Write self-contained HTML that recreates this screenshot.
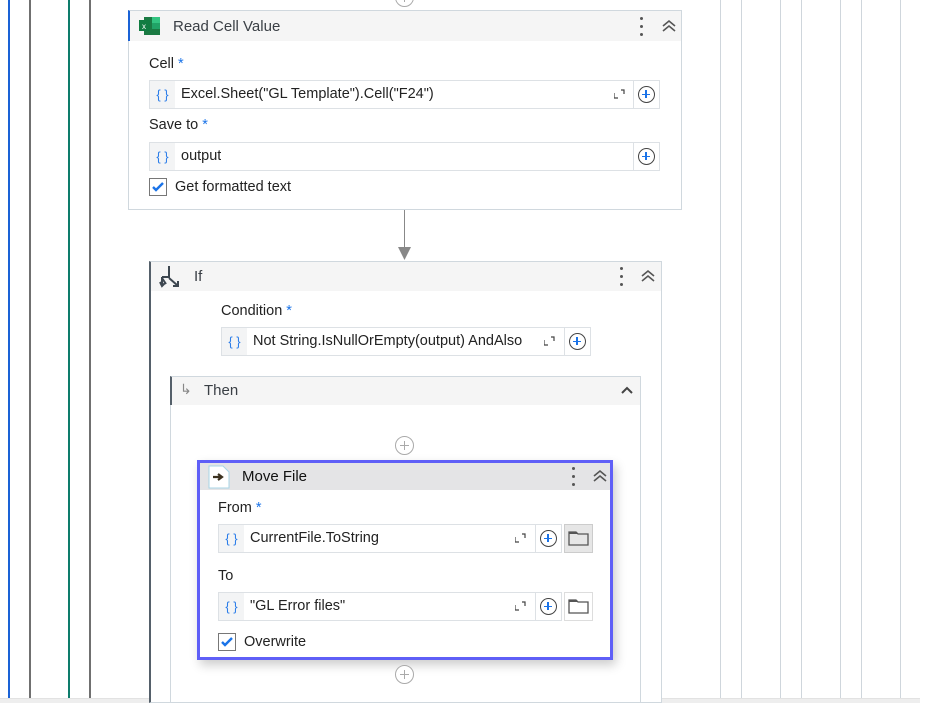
<!DOCTYPE html>
<html><head><meta charset="utf-8"><style>
*{box-sizing:border-box;margin:0;padding:0}
body{width:932px;height:703px;overflow:hidden;background:#fff;font-family:"Liberation Sans",sans-serif;color:#333;font-size:14px;position:relative}
.a{position:absolute}
.vl{position:absolute;top:0;width:2px;height:698px}
.lbl{position:absolute;font-size:14.5px;color:#222}
.lbl b{color:#1a73e8;font-weight:normal}
.inp{position:absolute;border:1px solid #dde1e5;background:#fff;height:29px}
.inp .br{position:absolute;left:0;top:0;width:25px;height:27px;background:#f3f4f5;color:#2b7de9;font-size:13px;text-align:center;line-height:27px}
.inp .tx{position:absolute;left:31px;top:0;line-height:27px;font-size:14.5px;color:#222;white-space:nowrap;overflow:hidden}
.inp .ex{position:absolute;top:8px;width:11px;height:10px}
.pl{position:absolute;border:1px solid #dde1e5;width:27px;height:29px;background:#fff}
.circ{position:absolute;width:17px;height:17px;border:1.3px solid #444;border-radius:50%;left:4px;top:5px}
.circ:before{content:"";position:absolute;left:3px;top:6.5px;width:8px;height:1.6px;background:#1a73e8}
.circ:after{content:"";position:absolute;left:6.2px;top:3px;width:1.6px;height:8px;background:#1a73e8}
.gc{position:absolute;width:19px;height:19px;border:1.5px solid #aaa;border-radius:50%;background:#fff}
.gc:before{content:"";position:absolute;left:3.5px;top:7.5px;width:9px;height:1.5px;background:#aaa}
.gc:after{content:"";position:absolute;left:7.5px;top:3.5px;width:1.5px;height:9px;background:#aaa}
.cb{position:absolute;width:18px;height:18px;border:1px solid #777;background:#fff}
.dots{position:absolute;width:3px;height:20px}
.dots i{display:block;width:3px;height:3px;background:#555;border-radius:50%;margin-bottom:5px}
.chev{position:absolute;width:14px;height:14px}
</style></head><body>
<div class="vl" style="left:8px;background:#1a62d6"></div>
<div class="vl" style="left:29px;background:#707070"></div>
<div class="vl" style="left:68px;background:#0e7c6b"></div>
<div class="vl" style="left:89px;background:#707070"></div>
<div class="vl" style="left:720px;width:1px;background:#cfd6dc"></div>
<div class="vl" style="left:741px;width:1px;background:#cfd6dc"></div>
<div class="vl" style="left:780px;width:1px;background:#cfd6dc"></div>
<div class="vl" style="left:801px;width:1px;background:#cfd6dc"></div>
<div class="vl" style="left:840px;width:1px;background:#cfd6dc"></div>
<div class="vl" style="left:861px;width:1px;background:#cfd6dc"></div>
<div class="vl" style="left:900px;width:1px;background:#cfd6dc"></div>
<div class="a" style="left:0;top:698px;width:920px;height:5px;background:#eeeeee;border-top:1px solid #e2e2e2"></div>

<div class="gc" style="left:395px;top:-12px"></div>

<!-- Read Cell Value -->
<div class="a" style="left:128px;top:10px;width:554px;height:200px;border:1px solid #d0d8de;background:#fff"></div>
<div class="a" style="left:128px;top:10px;width:554px;height:31px;background:#f5f5f5;border:1px solid #d0d8de;border-bottom:none;border-left:2px solid #1a62d6"></div>
<svg class="a" style="left:139px;top:16px" width="22" height="20"><rect x="5" y="1" width="16" height="18" fill="#1b7a43"/><rect x="13" y="1" width="8" height="6" fill="#33c481"/><rect x="13" y="7" width="8" height="6" fill="#21a366"/><rect x="0" y="4" width="11" height="11" fill="#107c41"/><text x="3" y="13" font-size="8" fill="#fff" font-family="Liberation Sans">x</text></svg>
<div class="a" style="left:173px;top:18px;font-size:15px;color:#3a3f45">Read Cell Value</div>
<div class="dots" style="left:640px;top:17px"><i></i><i></i><i></i></div>
<svg class="chev" style="left:662px;top:19px"><path d="M1 7l6-5 6 5M1 12l6-5 6 5" stroke="#555" stroke-width="1.6" fill="none"/></svg>
<div class="lbl" style="left:149px;top:56px">Cell <b>*</b></div>
<div class="inp" style="left:149px;top:80px;width:485px"><div class="br">{ }</div><div class="tx">Excel.Sheet("GL Template").Cell("F24")</div>
<svg class="ex" style="left:464px" viewBox="0 0 11 10"><path d="M0 4v5h4M7 1h3v4" stroke="#444" fill="none" stroke-width="1.2"/></svg></div>
<div class="pl" style="left:633px;top:80px"><div class="circ"></div></div>
<div class="lbl" style="left:149px;top:117px">Save to <b>*</b></div>
<div class="inp" style="left:149px;top:142px;width:485px"><div class="br">{ }</div><div class="tx">output</div></div>
<div class="pl" style="left:633px;top:142px"><div class="circ"></div></div>
<div class="cb" style="left:149px;top:178px"><svg width="16" height="16"><path d="M3 8l3 3 7-7" stroke="#1a73e8" stroke-width="2.4" fill="none"/></svg></div>
<div class="lbl" style="left:175px;top:179px">Get formatted text</div>

<div class="a" style="left:404px;top:210px;width:1px;height:40px;background:#888"></div>
<svg class="a" style="left:398px;top:247px" width="13" height="13"><path d="M0 0h13L6.5 13z" fill="#888"/></svg>

<!-- If -->
<div class="a" style="left:149px;top:261px;width:513px;height:442px;border:1px solid #d0d8de;border-left:2px solid #55606a;background:#fff"></div>
<div class="a" style="left:151px;top:262px;width:510px;height:29px;background:#f5f5f5"></div>
<svg class="a" style="left:159px;top:265px" width="24" height="24"><path d="M10 1v12M3 12l7 0M3 12l0 8M10 13l8 7M3 13l4 6" stroke="#3d4750" stroke-width="2" fill="none"/><path d="M1 17l2 4 3-3M14 21h5v-5" stroke="#3d4750" stroke-width="2" fill="none"/></svg>
<div class="a" style="left:194px;top:268px;font-size:15px;color:#3a3f45">If</div>
<div class="dots" style="left:620px;top:267px"><i></i><i></i><i></i></div>
<svg class="chev" style="left:641px;top:269px"><path d="M1 7l6-5 6 5M1 12l6-5 6 5" stroke="#555" stroke-width="1.6" fill="none"/></svg>
<div class="lbl" style="left:221px;top:303px">Condition <b>*</b></div>
<div class="inp" style="left:221px;top:327px;width:344px"><div class="br">{ }</div><div class="tx" style="width:278px">Not String.IsNullOrEmpty(output) AndAlso</div>
<svg class="ex" style="left:322px" viewBox="0 0 11 10"><path d="M0 4v5h4M7 1h3v4" stroke="#444" fill="none" stroke-width="1.2"/></svg></div>
<div class="pl" style="left:564px;top:327px"><div class="circ"></div></div>

<!-- Then -->
<div class="a" style="left:170px;top:376px;width:471px;height:327px;border:1px solid #d0d8de;background:#fff"></div>
<div class="a" style="left:170px;top:376px;width:471px;height:29px;background:#f5f5f5;border:1px solid #d0d8de;border-left:2px solid #55606a;border-bottom:none"></div>
<div class="a" style="left:180px;top:381px;color:#888;font-size:14px">↳</div>
<div class="a" style="left:204px;top:382px;font-size:15px;color:#3a3f45">Then</div>
<svg class="a" style="left:620px;top:385px" width="14" height="10"><path d="M2 8l5-5 5 5" stroke="#444" stroke-width="2" fill="none"/></svg>
<div class="gc" style="left:395px;top:436px"></div>

<!-- Move File -->
<div class="a" style="left:197px;top:460px;width:416px;height:200px;border:3px solid #5f5ff7;background:#fff;box-shadow:3px 5px 10px rgba(0,0,0,0.2)"></div>
<div class="a" style="left:200px;top:463px;width:410px;height:27px;background:#e4e4e6"></div>
<svg class="a" style="left:208px;top:465px" width="24" height="24"><path d="M1 1h14l6 6v16H1z" fill="#fff" stroke="#a9d4e6"/><path d="M5 12h8M10 9l4 3-4 3" stroke="#3c3220" stroke-width="2.2" fill="none"/></svg>
<div class="a" style="left:242px;top:468px;font-size:15px;color:#111">Move File</div>
<div class="dots" style="left:572px;top:467px"><i></i><i></i><i></i></div>
<svg class="chev" style="left:593px;top:469px"><path d="M1 7l6-5 6 5M1 12l6-5 6 5" stroke="#555" stroke-width="1.6" fill="none"/></svg>
<div class="lbl" style="left:218px;top:500px">From <b>*</b></div>
<div class="inp" style="left:218px;top:524px;width:318px"><div class="br">{ }</div><div class="tx">CurrentFile.ToString</div>
<svg class="ex" style="left:296px" viewBox="0 0 11 10"><path d="M0 4v5h4M7 1h3v4" stroke="#444" fill="none" stroke-width="1.2"/></svg></div>
<div class="pl" style="left:535px;top:524px"><div class="circ"></div></div>
<div class="a" style="left:564px;top:524px;width:29px;height:29px;border:1px solid #ccc;background:#e6e6e6"><svg width="27" height="27"><path d="M4 7h7l2 2h10v11H4z" fill="none" stroke="#555" stroke-width="1.3"/><path d="M4 7h7l2 2H4z" fill="#555"/></svg></div>
<div class="lbl" style="left:218px;top:568px">To</div>
<div class="inp" style="left:218px;top:592px;width:318px"><div class="br">{ }</div><div class="tx">"GL Error files"</div>
<svg class="ex" style="left:296px" viewBox="0 0 11 10"><path d="M0 4v5h4M7 1h3v4" stroke="#444" fill="none" stroke-width="1.2"/></svg></div>
<div class="pl" style="left:535px;top:592px"><div class="circ"></div></div>
<div class="a" style="left:564px;top:592px;width:29px;height:29px;border:1px solid #ddd;background:#fff"><svg width="27" height="27"><path d="M4 7h7l2 2h10v11H4z" fill="none" stroke="#555" stroke-width="1.3"/><path d="M4 7h7l2 2H4z" fill="#555"/></svg></div>
<div class="cb" style="left:218px;top:633px"><svg width="16" height="16"><path d="M3 8l3 3 7-7" stroke="#1a73e8" stroke-width="2.4" fill="none"/></svg></div>
<div class="lbl" style="left:244px;top:634px">Overwrite</div>
<div class="gc" style="left:395px;top:665px"></div>
</body></html>
